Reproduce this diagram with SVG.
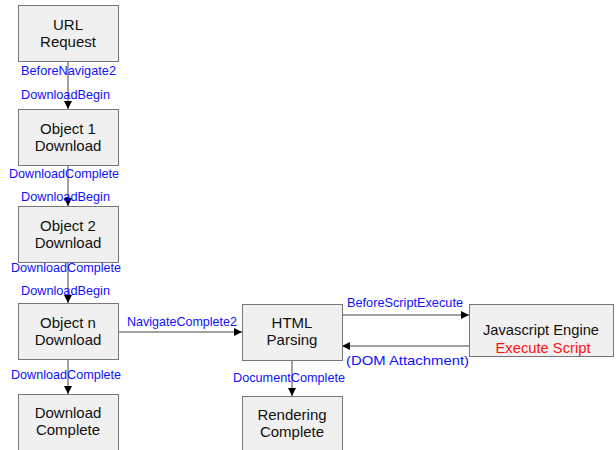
<svg xmlns="http://www.w3.org/2000/svg" width="616" height="450" viewBox="0 0 616 450">
<defs>
<marker id="ah" markerWidth="8" markerHeight="8" refX="8" refY="4" orient="auto" markerUnits="userSpaceOnUse">
<path d="M0,0 L8,4 L0,8 Z" fill="#000"/>
</marker>
<style>
.box{fill:#f0f0f0;stroke:#777;stroke-width:1}
.nt{font-family:"Liberation Sans",Arial,sans-serif;font-size:15px;fill:#111;text-anchor:middle}
.lb{font-family:"Liberation Sans",Arial,sans-serif;font-size:13.5px;fill:#1010ff}
.red{fill:#ff1010}
.cn{stroke:#444;stroke-width:1;fill:none}
</style>
</defs>
<rect width="616" height="450" fill="#fff"/>
<g id="connectors">
<line class="cn" x1="68" y1="61" x2="68" y2="109" marker-end="url(#ah)"/>
<line class="cn" x1="68" y1="166" x2="68" y2="206" marker-end="url(#ah)"/>
<line class="cn" x1="68" y1="262" x2="68" y2="303" marker-end="url(#ah)"/>
<line class="cn" x1="68" y1="360" x2="68" y2="394" marker-end="url(#ah)"/>
<line class="cn" x1="118" y1="332" x2="242" y2="332" marker-end="url(#ah)"/>
<line class="cn" x1="292" y1="360" x2="292" y2="396" marker-end="url(#ah)"/>
<line class="cn" x1="342" y1="315" x2="469" y2="315" marker-end="url(#ah)"/>
<line class="cn" x1="469" y1="346" x2="342" y2="346" marker-end="url(#ah)"/>
<text class="lb" x="21" y="75" textLength="95" lengthAdjust="spacingAndGlyphs">BeforeNavigate2</text>
<text class="lb" x="21" y="99" textLength="89" lengthAdjust="spacingAndGlyphs">DownloadBegin</text>
<text class="lb" x="9" y="178" textLength="110" lengthAdjust="spacingAndGlyphs">DownloadComplete</text>
<text class="lb" x="21" y="201" textLength="89" lengthAdjust="spacingAndGlyphs">DownloadBegin</text>
<text class="lb" x="11" y="272" textLength="110" lengthAdjust="spacingAndGlyphs">DownloadComplete</text>
<text class="lb" x="21" y="295" textLength="89" lengthAdjust="spacingAndGlyphs">DownloadBegin</text>
<text class="lb" x="11" y="379" textLength="110" lengthAdjust="spacingAndGlyphs">DownloadComplete</text>
<text class="lb" x="127" y="326" textLength="110" lengthAdjust="spacingAndGlyphs">NavigateComplete2</text>
<text class="lb" x="233" y="382" textLength="112" lengthAdjust="spacingAndGlyphs">DocumentComplete</text>
<text class="lb" x="347" y="307" textLength="116" lengthAdjust="spacingAndGlyphs">BeforeScriptExecute</text>
<text class="lb" x="346" y="365" textLength="123" lengthAdjust="spacingAndGlyphs">(DOM Attachment)</text>
</g>
<g id="url-request">
<rect class="box" x="18.5" y="5.5" width="100" height="56"/>
<text class="nt" x="68" y="30">URL</text>
<text class="nt" x="68" y="47">Request</text>
</g>
<g id="object-1">
<rect class="box" x="18.5" y="109.5" width="100" height="56"/>
<text class="nt" x="68" y="134">Object 1</text>
<text class="nt" x="68" y="151">Download</text>
</g>
<g id="object-2">
<rect class="box" x="18.5" y="206.5" width="100" height="56"/>
<text class="nt" x="68" y="231">Object 2</text>
<text class="nt" x="68" y="248">Download</text>
</g>
<g id="object-n">
<rect class="box" x="18.5" y="303.5" width="100" height="56"/>
<text class="nt" x="68" y="328">Object n</text>
<text class="nt" x="68" y="345">Download</text>
</g>
<g id="download-complete">
<rect class="box" x="18.5" y="394.5" width="100" height="58"/>
<text class="nt" x="68" y="418">Download</text>
<text class="nt" x="68" y="435">Complete</text>
</g>
<g id="html-parsing">
<rect class="box" x="242.5" y="304.5" width="100" height="56"/>
<text class="nt" x="292" y="328">HTML</text>
<text class="nt" x="292" y="345">Parsing</text>
</g>
<g id="rendering-complete">
<rect class="box" x="242.5" y="396.5" width="100" height="58"/>
<text class="nt" x="292" y="420">Rendering</text>
<text class="nt" x="292" y="437">Complete</text>
</g>
<g id="javascript-engine">
<rect class="box" x="469.5" y="304.5" width="144" height="52"/>
<text class="nt" x="541" y="335" textLength="116" lengthAdjust="spacingAndGlyphs">Javascript Engine</text>
<text class="nt red" x="543" y="353" textLength="95" lengthAdjust="spacingAndGlyphs">Execute Script</text>
</g>
</svg>
